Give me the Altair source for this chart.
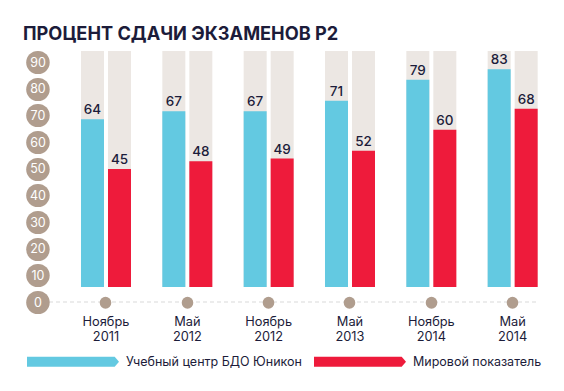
import altair as alt
import pandas as pd

# ---- data ----
periods = ["Ноябрь 2011", "Май 2012", "Ноябрь 2012", "Май 2013", "Ноябрь 2014", "Май 2014"]
series = ["Учебный центр БДО Юникон", "Мировой показатель"]
unicon = [64, 67, 67, 71, 79, 83]
world = [45, 48, 49, 52, 60, 68]
y_ticks = [0, 10, 20, 30, 40, 50, 60, 70, 80, 90]
y_max = 90
title_text = "ПРОЦЕНТ СДАЧИ ЭКЗАМЕНОВ P2"

rows = []
for p, a, b in zip(periods, unicon, world):
    rows.append({"period": p, "series": series[0], "value": a, "full": y_max})
    rows.append({"period": p, "series": series[1], "value": b, "full": y_max})
df = pd.DataFrame(rows)

# ---- style ----
BLUE = "#63C9E1"
RED = "#EE1B3B"
GRAY = "#ECE7E3"
TAN = "#B09D8E"
INK = "#1C1C3A"
FONT = "Inter"

xscale = alt.Scale(domain=periods, range=[57.33, 545.33], paddingInner=0, paddingOuter=0)
xoff_scale = alt.Scale(domain=series, paddingInner=0.148, paddingOuter=0.58)
ybar = alt.Scale(domain=[0, y_max], range=[242, 6])
ydot = alt.Scale(domain=[0, y_max], range=[257, 17])

x_axis = alt.Axis(
    title=None, orient="bottom", offset=-81, domain=False, grid=False,
    ticks=True, tickSize=0.5, tickWidth=11.5, tickCap="round", tickColor=TAN,
    labelExpr="split(datum.label, ' ')", labelFont=FONT, labelFontSize=12.8,
    labelColor=INK, labelPadding=13, labelLineHeight=14.5, labelAngle=0, zindex=1,
)
x_enc = alt.X("period:N", scale=xscale, sort=periods, axis=x_axis)
xo_enc = alt.XOffset("series:N", scale=xoff_scale, sort=series)

base = alt.Chart(df)

bg = base.mark_bar(color=GRAY).encode(
    x=x_enc, xOffset=xo_enc,
    y=alt.Y("full:Q", scale=ybar, axis=None),
)

arrow = "M-1,-0.109L0.906,-0.109L1,0L0.906,0.109L-1,0.109Z"
fg = base.mark_bar().encode(
    x=x_enc, xOffset=xo_enc,
    y=alt.Y("value:Q", scale=ybar, axis=None),
    color=alt.Color(
        "series:N",
        scale=alt.Scale(domain=series, range=[BLUE, RED]),
        sort=series,
        legend=alt.Legend(
            orient="none", legendX=19, legendY=270.4, direction="horizontal",
            title=None, symbolType=arrow, symbolSize=8464, symbolStrokeWidth=0,
            symbolOpacity=1, labelFont=FONT, labelFontSize=12.5, labelColor=INK,
            labelOffset=7, columnPadding=12, padding=0, labelLimit=400,
        ),
    ),
)

labels = base.mark_text(
    baseline="alphabetic", dy=-5, font=FONT, fontSize=13.5, fontWeight=500, color=INK
).encode(
    x=x_enc, xOffset=xo_enc,
    y=alt.Y("value:Q", scale=ybar, axis=None),
    text=alt.Text("value:Q"),
)

y_axis = alt.Axis(
    title=None, orient="left", offset=-29.7, values=y_ticks, domain=False, grid=False,
    tickSize=0.5, tickWidth=23, tickCap="round", tickColor=TAN,
    labelAlign="center", labelBaseline="middle", labelPadding=-0.25,
    labelColor="white", labelFont=FONT, labelFontSize=12.5, labelFlush=False,
    labelOverlap=False, zindex=1,
)
rule = alt.Chart(pd.DataFrame({"v": [0]})).mark_rule(
    strokeDash=[4, 3], color="#D9D9D9", strokeWidth=1
).encode(
    x=alt.value(41), x2=alt.value(529),
    y=alt.Y("v:Q", scale=ydot, axis=y_axis),
)

chart = alt.layer(rule, bg, fg, labels).resolve_scale(y="independent").properties(
    width=548, height=338,
    padding={"left": 0, "top": 37, "right": 0, "bottom": 0},
    autosize=alt.AutoSizeParams(type="none"),
    background="white",
    title=alt.TitleParams(
        text=title_text, anchor="start", frame="group", font=FONT, fontSize=18.2,
        fontWeight="bold", color=INK, dx=15, dy=16, offset=3, baseline="alphabetic",
    ),
).configure_view(stroke=None)

chart.save("out.html", embed_options={"renderer": "svg", "actions": False})
